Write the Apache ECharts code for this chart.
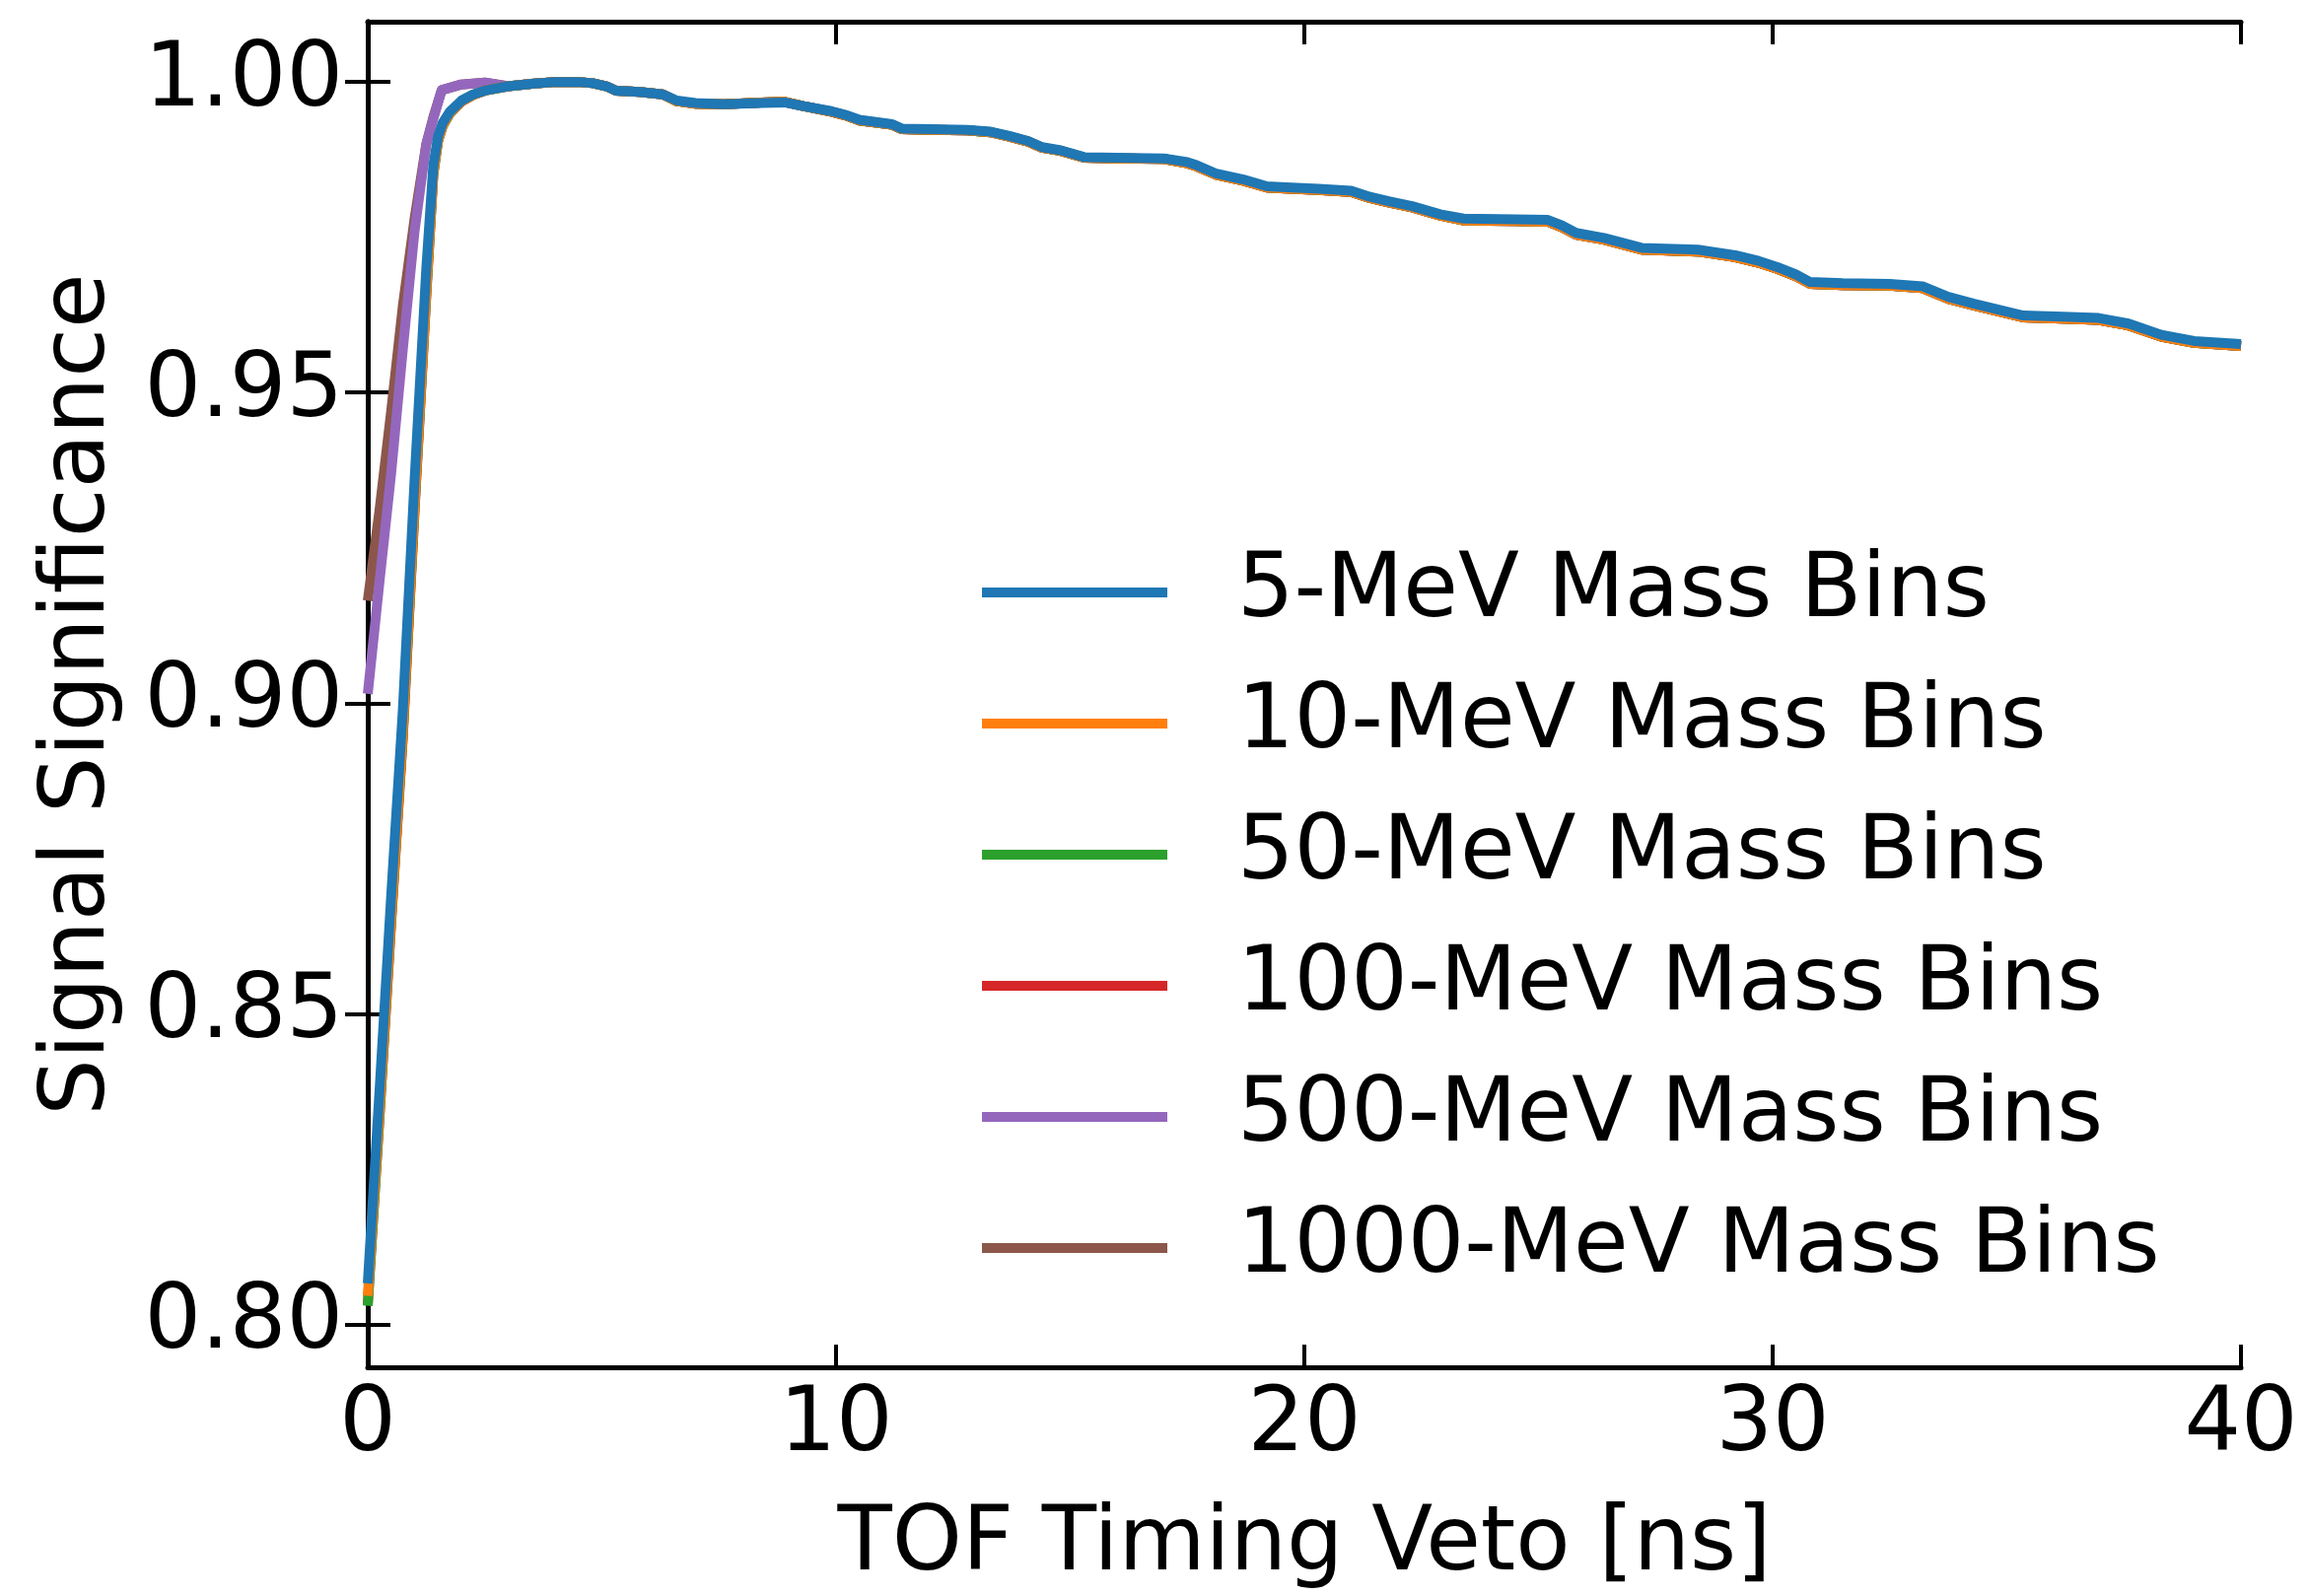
<!DOCTYPE html>
<html>
<head>
<meta charset="utf-8">
<script src="https://cdn.jsdelivr.net/npm/echarts@6/dist/echarts.min.js"></script>
<style>
html,body{margin:0;padding:0;background:#fff;}
#chart{width:2342px;height:1619px;}
</style>
</head>
<body>
<div id="chart"></div>
<script>
// ---- Data ----
const seriesNames = ['5-MeV Mass Bins','10-MeV Mass Bins','50-MeV Mass Bins','100-MeV Mass Bins','500-MeV Mass Bins','1000-MeV Mass Bins'];
const seriesColors = ['#1f77b4','#ff7f0e','#2ca02c','#d62728','#9467bd','#8c564b'];

// early rise (TOF veto in ns)
const riseT = [0, 0.25, 0.5, 0.75, 1.0, 1.25, 1.4, 1.5, 1.6, 1.75, 2.0, 2.25, 2.5];
const rise5 = [0.8066, 0.8375, 0.869, 0.899, 0.936, 0.970, 0.9866, 0.9912, 0.9934, 0.9952, 0.9970, 0.9980, 0.9986];
const rise10 = [0.8046, 0.8345, 0.8655, 0.8955, 0.932, 0.9665, 0.9855, 0.9906, 0.9930, 0.9950, 0.9969, 0.9979, 0.9986];
const rise50 = [0.8030, 0.8335, 0.8650, 0.8950, 0.9315, 0.966, 0.9852, 0.9905, 0.9929, 0.9949, 0.9969, 0.9979, 0.9986];
const rise100 = [0.8032, 0.8332, 0.8645, 0.8945, 0.931, 0.9655, 0.9850, 0.9904, 0.9929, 0.9949, 0.9968, 0.9979, 0.9986];

const riseWideT = [0, 0.25, 0.5, 0.75, 1.0, 1.25, 1.4, 1.58, 2.0, 2.5];
const rise500 = [0.9015, 0.9195, 0.937, 0.957, 0.976, 0.990, 0.9941, 0.9987, 0.9996, 0.9999];
const rise1000 = [0.9165, 0.931, 0.947, 0.964, 0.978, 0.990, 0.9943, 0.9987, 0.9996, 0.9999];

// common tail (all binnings nearly identical)
const tailT = [3.0, 3.5, 4.0, 4.5, 4.8, 5.1, 5.3, 5.8, 6.3, 6.6, 7.0, 7.6, 8.4, 8.9, 9.3, 9.9, 10.2, 10.5, 11.2, 11.4,
  12.0, 12.8, 13.3, 13.7, 14.1, 14.4, 14.8, 15.3, 16.0, 17.0, 17.5, 17.7, 18.1, 18.7, 19.2, 19.5, 20.3, 21.0, 21.4, 21.8,
  22.3, 22.9, 23.4, 24.5, 25.2, 25.5, 25.8, 26.4, 27.2, 28.4, 29.2, 29.7, 30.1, 30.5, 30.8, 31.5, 32.5, 33.2, 33.75, 34.3,
  35.35, 36.2, 36.96, 37.6, 38.3, 39.0, 40.0];
const tail5 = [0.9993, 0.9997, 1.0000, 1.0000, 0.9998, 0.9993, 0.9986, 0.9984, 0.9980, 0.9970,
  0.9966, 0.9964, 0.9966, 0.9967, 0.9961, 0.9953, 0.9947, 0.9939, 0.9932, 0.9925,
  0.9924, 0.9923, 0.9920, 0.9913, 0.9905, 0.9895, 0.9890, 0.9879, 0.9878, 0.9877,
  0.9871, 0.9866, 0.9853, 0.9843, 0.9832, 0.9831, 0.9828, 0.9825, 0.9815, 0.9808,
  0.9800, 0.9787, 0.9780, 0.9779, 0.9778, 0.9769, 0.9757, 0.9749, 0.9733, 0.9730,
  0.9721, 0.9712, 0.9702, 0.9690, 0.9678, 0.9676, 0.9675, 0.9671, 0.9654, 0.9643,
  0.9624, 0.9622, 0.9620, 0.9611, 0.9593, 0.9583, 0.9578];
const tailOthers = [0.9993, 0.9997, 1.0000, 1.0000, 0.9998, 0.9993, 0.9986, 0.9984, 0.9980, 0.9969,
  0.9965, 0.9964, 0.9967, 0.9968, 0.9961, 0.9952, 0.9946, 0.9938, 0.9931, 0.9924,
  0.9923, 0.9922, 0.9919, 0.9912, 0.9904, 0.9894, 0.9889, 0.9878, 0.9877, 0.9876,
  0.9869, 0.9864, 0.9851, 0.9841, 0.9830, 0.9829, 0.9826, 0.9823, 0.9813, 0.9806,
  0.9798, 0.9785, 0.9777, 0.9776, 0.9775, 0.9766, 0.9754, 0.9746, 0.9730, 0.9727,
  0.9718, 0.9709, 0.9699, 0.9687, 0.9675, 0.9673, 0.9672, 0.9668, 0.9651, 0.9640,
  0.9621, 0.9619, 0.9617, 0.9608, 0.9590, 0.9580, 0.9575];

const xTicks = [0, 10, 20, 30, 40];
const yTicks = [0.80, 0.85, 0.90, 0.95, 1.00];

// ---- build ----
function pairs(ts, vs) { return ts.map((t, i) => [t, vs[i]]); }
const seriesData = [
  pairs(riseT, rise5).concat(pairs(tailT, tail5)),
  pairs(riseT, rise10).concat(pairs(tailT, tailOthers)),
  pairs(riseT, rise50).concat(pairs(tailT, tailOthers)),
  pairs(riseT, rise100).concat(pairs(tailT, tailOthers)),
  pairs(riseWideT, rise500).concat(pairs(tailT, tailOthers)),
  pairs(riseWideT, rise1000).concat(pairs(tailT, tailOthers))
];
const zOrder = [8, 7, 6, 5, 4, 3];

const FONT = 'DejaVu Sans';
const FS = 90.5;
const Y_MIN = 0.7931, Y_MAX = 1.0097;

const chart = echarts.init(document.getElementById('chart'), null, {renderer: 'canvas'});

const frameLine = {show: true, lineStyle: {color: '#000', width: 5}};
const tickIn = (vals) => ({show: true, inside: true, length: 23, lineStyle: {color: '#000', width: 4}, customValues: vals});

chart.setOption({
  animation: false,
  backgroundColor: '#fff',
  grid: {left: 373, right: 69, top: 22, bottom: 226, containLabel: false},
  legend: {
    left: 996, top: 551, orient: 'vertical', padding: 0,
    itemWidth: 188, itemHeight: 10, itemGap: 33,
    selectedMode: false,
    icon: 'rect',
    data: seriesNames,
    textStyle: {fontFamily: FONT, fontSize: FS, color: '#000', lineHeight: 100, padding: [0, 0, 0, 66]}
  },
  xAxis: [{
    type: 'value', min: 0, max: 40, interval: 10, position: 'bottom',
    name: 'TOF Timing Veto [ns]', nameLocation: 'middle', nameGap: 136,
    nameTextStyle: {fontFamily: FONT, fontSize: FS, color: '#000'},
    axisLine: frameLine, axisTick: tickIn(xTicks), splitLine: {show: false},
    axisLabel: {fontFamily: FONT, fontSize: FS, color: '#000', margin: 15, customValues: xTicks}
  }, {
    type: 'value', min: 0, max: 40, interval: 10, position: 'top',
    axisLine: frameLine, axisTick: tickIn(xTicks), splitLine: {show: false},
    axisLabel: {show: false}
  }],
  yAxis: [{
    type: 'value', min: Y_MIN, max: Y_MAX, position: 'left',
    name: 'Signal Significance', nameLocation: 'middle', nameGap: 246,
    nameTextStyle: {fontFamily: FONT, fontSize: FS, color: '#000'},
    axisLine: frameLine, axisTick: tickIn(yTicks), splitLine: {show: false},
    axisLabel: {fontFamily: FONT, fontSize: FS, color: '#000', margin: 25, customValues: yTicks,
      formatter: v => Number(v).toFixed(2)}
  }, {
    type: 'value', min: Y_MIN, max: Y_MAX, position: 'right',
    axisLine: frameLine, axisTick: tickIn(yTicks), splitLine: {show: false},
    axisLabel: {show: false}
  }],
  series: seriesNames.map((name, i) => ({
    name: name, type: 'line', xAxisIndex: 0, yAxisIndex: 0,
    data: seriesData[i], showSymbol: false, symbol: 'none',
    color: seriesColors[i], z: zOrder[i], clip: true,
    lineStyle: {width: 10, color: seriesColors[i], join: 'round', cap: 'butt'},
    emphasis: {disabled: true}
  }))
});
</script>
</body>
</html>
